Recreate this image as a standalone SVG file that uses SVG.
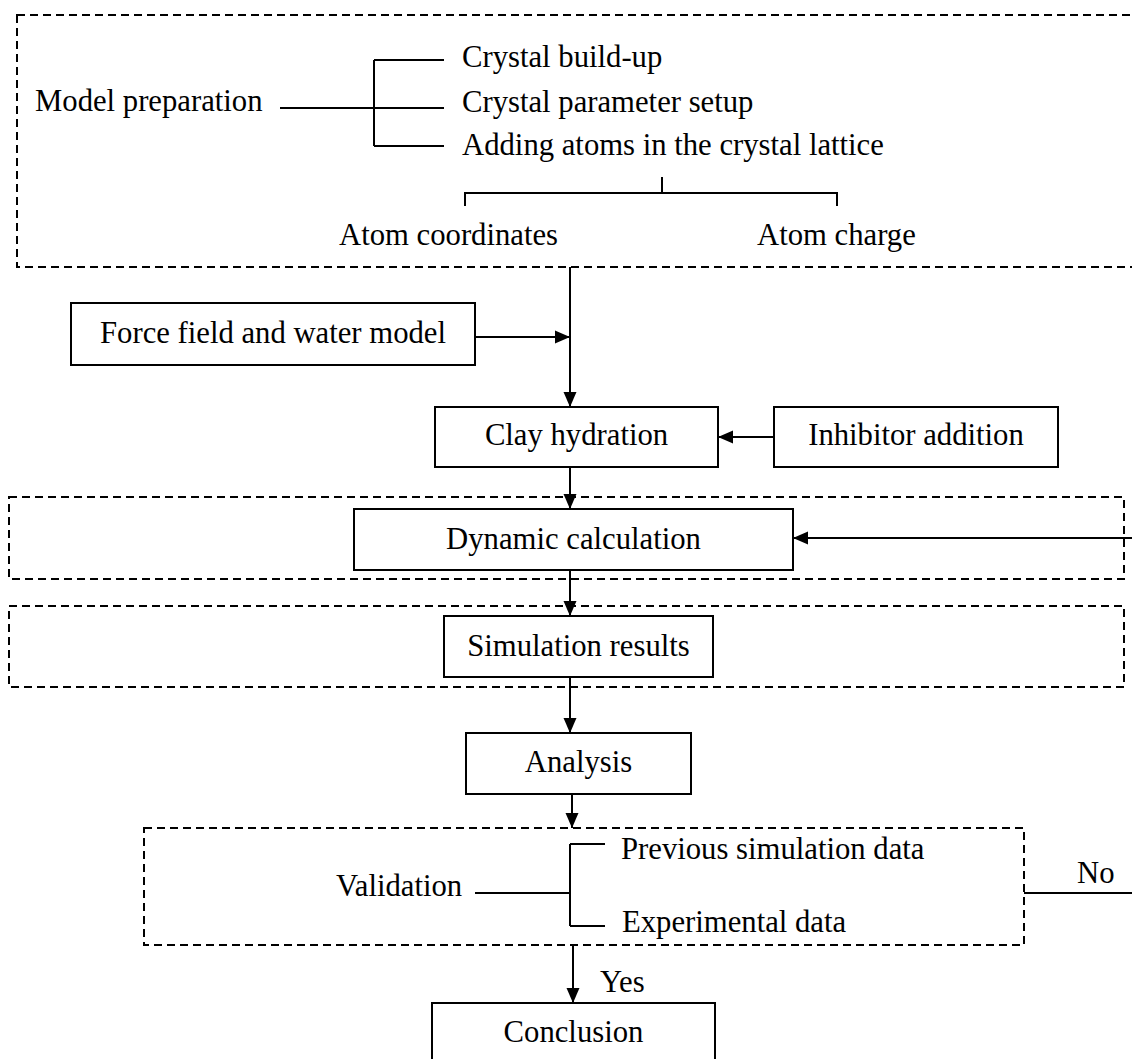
<svg xmlns="http://www.w3.org/2000/svg" width="1132" height="1059" viewBox="0 0 1132 1059">
<style>
  text { font-family: "Liberation Serif", "Times New Roman", serif; font-size: 30.7px; fill: #000; }
  .box { fill: #fff; stroke: #000; stroke-width: 2; }
  .dash { fill: none; stroke: #000; stroke-width: 2; stroke-dasharray: 8 5; }
  .line { fill: none; stroke: #000; stroke-width: 2; }
  .arrow { fill: none; stroke: #000; stroke-width: 2; marker-end: url(#ah); }
  .mid { text-anchor: middle; }
</style>
<defs>
  <marker id="ah" markerUnits="userSpaceOnUse" markerWidth="16" markerHeight="14" refX="15" refY="7" orient="auto">
    <path d="M0,0.5 L15,7 L0,13.5 Z" fill="#000"/>
  </marker>
</defs>
<rect width="1132" height="1059" fill="#fff"/>

<!-- dashed containers -->
<g id="group-model">
  <rect class="dash" x="17" y="15" width="1130" height="252"/>
</g>
<g id="group-dynamic">
  <rect class="dash" x="9" y="497" width="1115" height="82"/>
</g>
<g id="group-results">
  <rect class="dash" x="9" y="606" width="1115" height="81"/>
</g>
<g id="group-validation">
  <rect class="dash" x="144" y="828" width="880" height="117"/>
</g>

<!-- connectors -->
<g id="connectors">
  <!-- model preparation tree -->
  <path class="line" d="M280,108 H444 M374,60 V146 M374,60 H444 M374,146 H444"/>
  <path class="line" d="M662,177 V193 M465,206 V193 H837 V206"/>
  <!-- main flow -->
  <path class="arrow" d="M570,267 V407"/>
  <path class="arrow" d="M475,337 H570"/>
  <path class="arrow" d="M774,437 H718"/>
  <path class="arrow" d="M570,467 V509"/>
  <path class="arrow" d="M1134,538 H793"/>
  <path class="arrow" d="M570,570 V616"/>
  <path class="arrow" d="M570,677 V733"/>
  <path class="arrow" d="M572,794 V828"/>
  <path class="arrow" d="M573,945 V1003"/>
  <!-- validation tree -->
  <path class="line" d="M475,893 H570 M570,844 V926 M570,844 H605 M570,926 H605"/>
  <path class="line" d="M1024,893 H1134"/>
</g>

<!-- nodes -->
<g id="model-preparation">
  <text x="35" y="111">Model preparation</text>
</g>
<g id="crystal-build-up">
  <text x="462" y="67">Crystal build-up</text>
</g>
<g id="crystal-parameter-setup">
  <text x="462" y="112">Crystal parameter setup</text>
</g>
<g id="adding-atoms">
  <text x="462" y="155">Adding atoms in the crystal lattice</text>
</g>
<g id="atom-coordinates">
  <text x="339" y="245">Atom coordinates</text>
</g>
<g id="atom-charge">
  <text x="757" y="245">Atom charge</text>
</g>
<g id="force-field">
  <rect class="box" x="71" y="303" width="404" height="62"/>
  <text class="mid" x="273" y="343">Force field and water model</text>
</g>
<g id="clay-hydration">
  <rect class="box" x="435" y="407" width="283" height="60"/>
  <text class="mid" x="576.5" y="445">Clay hydration</text>
</g>
<g id="inhibitor-addition">
  <rect class="box" x="774" y="407" width="284" height="60"/>
  <text class="mid" x="916" y="445">Inhibitor addition</text>
</g>
<g id="dynamic-calculation">
  <rect class="box" x="354" y="509" width="439" height="61"/>
  <text class="mid" x="573.5" y="549">Dynamic calculation</text>
</g>
<g id="simulation-results">
  <rect class="box" x="444" y="616" width="269" height="61"/>
  <text class="mid" x="578.5" y="656">Simulation results</text>
</g>
<g id="analysis">
  <rect class="box" x="466" y="733" width="225" height="61"/>
  <text class="mid" x="578.5" y="772">Analysis</text>
</g>
<g id="validation">
  <text x="336" y="896">Validation</text>
</g>
<g id="previous-simulation-data">
  <text x="621" y="859">Previous simulation data</text>
</g>
<g id="experimental-data">
  <text x="622" y="932">Experimental data</text>
</g>
<g id="label-no">
  <text x="1077" y="883">No</text>
</g>
<g id="label-yes">
  <text x="600" y="992">Yes</text>
</g>
<g id="conclusion">
  <rect class="box" x="432" y="1003" width="283" height="70"/>
  <text class="mid" x="573.5" y="1042">Conclusion</text>
</g>
</svg>
